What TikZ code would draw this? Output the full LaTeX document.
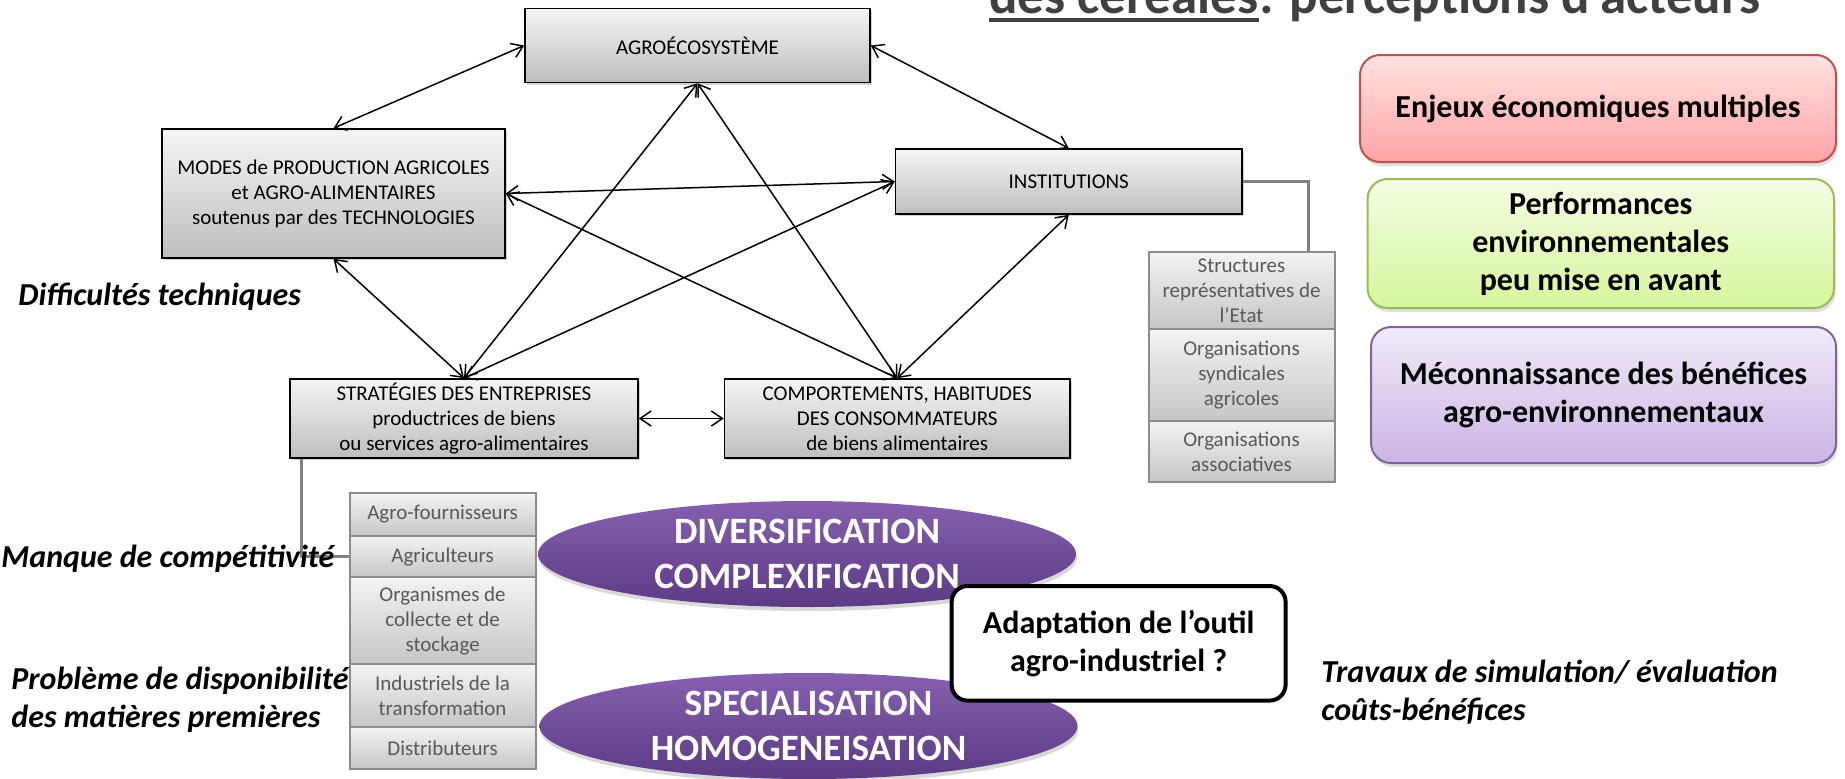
\documentclass[tikz,border=0pt]{standalone}
\usepackage{xcolor}
\usepackage{fontspec}
\setmainfont{Carlito}
\usepackage{tikz}
\usetikzlibrary{arrows.meta}
\usetikzlibrary{shapes}
\usetikzlibrary{shapes.geometric}
\usetikzlibrary{shadows}
\usetikzlibrary{positioning}

\definecolor{boxtop}{RGB}{245,245,245}
\definecolor{boxbot}{RGB}{190,190,190}
\definecolor{listtop}{RGB}{243,243,243}
\definecolor{listbot}{RGB}{198,198,198}
\definecolor{listline}{RGB}{140,140,140}
\definecolor{listtext}{RGB}{89,89,89}
\definecolor{redtop}{RGB}{255,226,226}
\definecolor{redbot}{RGB}{255,164,164}
\definecolor{redline}{RGB}{192,80,77}
\definecolor{greentop}{RGB}{244,253,228}
\definecolor{greenbot}{RGB}{214,246,156}
\definecolor{greenline}{RGB}{155,187,89}
\definecolor{lilatop}{RGB}{241,234,248}
\definecolor{lilabot}{RGB}{203,181,229}
\definecolor{lilaline}{RGB}{128,100,162}
\definecolor{violtop}{RGB}{134,96,174}
\definecolor{violbot}{RGB}{92,58,132}
\definecolor{titrecol}{RGB}{64,64,64}
\definecolor{liencol}{RGB}{128,128,128}

\tikzset{
  acteur/.style={rectangle, draw=black, line width=0.8pt, top color=boxtop, bottom color=boxbot,
    align=center, font=\fontsize{10.5}{12.5}\selectfont, inner sep=2pt,
    drop shadow={shadow xshift=1.2pt, shadow yshift=-1.2pt, opacity=0.35}},
  liste/.style={rectangle, draw=listline, line width=1pt, top color=listtop, bottom color=listbot,
    text=listtext, align=center, font=\fontsize{10.5}{12.5}\selectfont, inner sep=1pt,
    minimum width=93pt},
  percep/.style={rectangle, rounded corners=10pt, line width=1pt, align=center,
    font=\bfseries\fontsize{16}{19}\selectfont,
    drop shadow={shadow xshift=0.8pt, shadow yshift=-2pt, opacity=0.25}},
  tendance/.style={ellipse, top color=violtop, bottom color=violbot, text=white, align=center,
    font=\bfseries\fontsize{18.6}{22.5}\selectfont, inner sep=0pt,
    minimum width=269pt, minimum height=53pt,
    drop shadow={shadow xshift=0.5pt, shadow yshift=-2pt, opacity=0.3}},
  frein/.style={align=left, font=\bfseries\itshape\fontsize{16}{19}\selectfont, inner sep=0pt},
  titre/.style={font=\bfseries\fontsize{26.5}{30}\selectfont, text=titrecol, inner sep=0pt},
  lien/.style={draw=liencol, line width=1.5pt},
  relation/.style={<->, >={Straight Barb[length=5.5pt, width=7.5pt]}, line width=0.75pt},
}

\begin{document}
\begin{tikzpicture}[x=0.5pt, y=-0.5pt]
\useasboundingbox (0,0) rectangle (1845,778);
\clip (0,0) rectangle (1845,778);

% titre (coupe en haut)
\node [titre, anchor=base west] (cer) at (989, 13) {des céréales};
\node [titre, anchor=base west] (persp) at (cer.base east) {: perceptions d’acteurs};
\draw [titrecol, line width=1.6pt] ([yshift=-3.5pt]cer.base west) -- ([yshift=-3.5pt]cer.base east);

% acteurs
\node [acteur, minimum width=172.5pt, minimum height=37pt] (agro) at (697.5, 45.5) {AGROÉCOSYSTÈME};
\node [acteur, minimum width=171.5pt, minimum height=64.5pt] (modes) at (333.5, 193.5)
  {MODES de PRODUCTION AGRICOLES\\ et AGRO-ALIMENTAIRES\\ soutenus par des TECHNOLOGIES};
\node [acteur, minimum width=173.25pt, minimum height=32.5pt] (inst) at (1068.75, 181.5) {INSTITUTIONS};
\node [acteur, minimum width=174pt, minimum height=39.5pt] (strat) at (464, 418.5)
  {STRATÉGIES DES ENTREPRISES\\ productrices de biens\\ ou services agro-alimentaires};
\node [acteur, minimum width=172.75pt, minimum height=39.5pt] (comp) at (897.25, 418.5)
  {COMPORTEMENTS, HABITUDES\\ DES CONSOMMATEURS\\ de biens alimentaires};

% relations
\draw [relation] (agro.west) to (modes.north);
\draw [relation] (agro.east) to (inst.north);
\draw [relation] (modes.east) to (inst.west);
\draw [relation] (modes.east) to (comp.north);
\draw [relation] (modes.south) to (strat.north);
\draw [relation] (strat.north) to (agro.south);
\draw [relation] (strat.north) to (inst.west);
\draw [relation] (agro.south) to (comp.north);
\draw [relation] (inst.south) to (comp.north);
\draw [relation] (strat.east) to (comp.west);

% institutions
\node [liste, minimum height=38.5pt] (etat) at (1241.5, 290.5) {Structures\\ représentatives de\\ l’Etat};
\node [liste, minimum height=46pt] (synd) at (1241.5, 375) {Organisations\\ syndicales\\ agricoles};
\node [liste, minimum height=30.5pt] (assoc) at (1241.5, 451.5) {Organisations\\ associatives};
\draw [lien] (inst.east) -| ([xshift=-13.7pt]etat.north east);

% filiere
\node [liste, minimum height=21.5pt] (four) at (442.6, 514.5) {Agro-fournisseurs};
\node [liste, minimum height=20.5pt] (agri) at (442.6, 556.5) {Agriculteurs};
\node [liste, minimum height=43.5pt] (coll) at (442.6, 620.5) {Organismes de\\ collecte et de\\ stockage};
\node [liste, minimum height=31.5pt] (indus) at (442.6, 695.5) {Industriels de la\\ transformation};
\node [liste, minimum height=21pt] (distr) at (442.6, 748) {Distributeurs};
\draw [lien] ([xshift=6.35pt]strat.south west) |- (agri.west);

% perceptions
\node [percep, draw=redline, top color=redtop, bottom color=redbot,
  minimum width=238pt, minimum height=53.5pt] (enjeux) at (1598, 108.5) {Enjeux économiques multiples};
\node [percep, draw=greenline, top color=greentop, bottom color=greenbot,
  minimum width=233.25pt, minimum height=64.5pt] (perf) at (1600.75, 243.5)
  {Performances\\ environnementales\\ peu mise en avant};
\node [percep, draw=lilaline, top color=lilatop, bottom color=lilabot,
  minimum width=232.5pt, minimum height=68pt] (mecon) at (1603.5, 395)
  {Méconnaissance des bénéfices\\ agro-environnementaux};

% tendances
\node [tendance] (divers) at (807, 554) {DIVERSIFICATION\\ COMPLEXIFICATION};
\node [tendance] (special) at (808.5, 726) {SPECIALISATION\\ HOMOGENEISATION};
\node [rectangle, rounded corners=8pt, draw=black, line width=2pt, fill=white, align=center,
  font=\bfseries\fontsize{16}{19}\selectfont, minimum width=167pt, minimum height=57.3pt]
  (outil) at (1118.6, 643.3) {Adaptation de l’outil\\ agro-industriel ?};

% freins
\node [frein, anchor=west] (diff) at (18, 297) {Difficultés techniques};
\node [frein, anchor=west] (manque) at (1, 559) {Manque de compétitivité};
\node [frein, anchor=west] (dispo) at (11, 700) {Problème de disponibilité\\ des matières premières};
\node [frein, anchor=west] (travaux) at (1321, 692.5) {Travaux de simulation/ évaluation\\ coûts-bénéfices};
\end{tikzpicture}
\end{document}
